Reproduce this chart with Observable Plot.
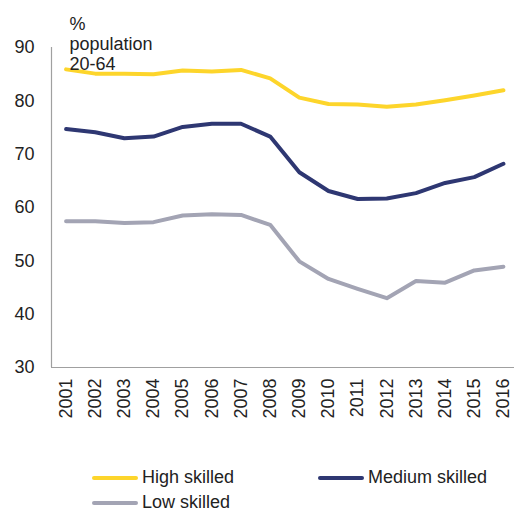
<!DOCTYPE html>
<html>
<head>
<meta charset="utf-8">
<script src="https://cdn.jsdelivr.net/npm/d3@7"></script>
<script src="https://cdn.jsdelivr.net/npm/@observablehq/plot@0.6"></script>
<style>
  body { margin: 0; background: #fff; font-family: "Liberation Sans", Arial, sans-serif; }
  #chart svg { display: block; }
  .legend { display: grid; grid-template-columns: 226px 226px; margin-left: 92px; margin-top: 35px; }
  .item { display: flex; align-items: center; height: 25px; font-size: 18px; color: #222; }
  .swatch { width: 46px; height: 4px; border-radius: 2px; margin-right: 4px; }
</style>
</head>
<body>
<div id="chart"></div>
<script>
const years = [2001,2002,2003,2004,2005,2006,2007,2008,2009,2010,2011,2012,2013,2014,2015,2016];
const highSkilled   = [85.9,85.1,85.1,85.0,85.7,85.5,85.8,84.2,80.6,79.4,79.3,78.9,79.3,80.1,81.0,82.0];
const mediumSkilled = [74.7,74.1,73.0,73.3,75.1,75.7,75.7,73.3,66.6,63.1,61.6,61.7,62.7,64.6,65.7,68.2];
const lowSkilled    = [57.4,57.4,57.1,57.25,58.5,58.75,58.6,56.75,49.9,46.6,44.75,43.0,46.2,45.9,48.2,48.9];
const seriesNames = ["High skilled", "Medium skilled", "Low skilled"];
const seriesColors = ["#FDD52B", "#2E3772", "#A3A4B4"];
const yTicks = [30,40,50,60,70,80,90];
const unitLabel = "%\npopulation\n20-64";

const seriesValues = [highSkilled, mediumSkilled, lowSkilled];
const data = [];
seriesNames.forEach((s, i) => years.forEach((yr, j) => data.push({series: s, year: yr, value: seriesValues[i][j]})));

const xDomain = [2000.5, 2016.38];

const plot = Plot.plot({
  width: 514,
  height: 430,
  marginLeft: 51,
  marginRight: 0,
  marginTop: 47,
  marginBottom: 63,
  style: {fontFamily: "Liberation Sans, Arial, sans-serif", fontSize: "18px", color: "#222"},
  x: {type: "linear", domain: xDomain},
  y: {domain: [30, 90]},
  color: {domain: seriesNames, range: seriesColors},
  marks: [
    Plot.axisY({ticks: yTicks, tickSize: 0, tickPadding: 17, label: null, fontSize: 18}),
    Plot.axisX({ticks: years, tickSize: 0, tickPadding: 11, tickRotate: -90, tickFormat: d => String(d), label: null, fontSize: 18}),
    Plot.ruleX([xDomain[0]], {stroke: "#A0A0A0", strokeWidth: 1.2}),
    Plot.ruleY([30], {stroke: "#A0A0A0", strokeWidth: 1.2}),
    Plot.line(data, {x: "year", y: "value", z: "series", stroke: "series", strokeWidth: 4, strokeLinejoin: "round", strokeLinecap: "round"}),
    Plot.text([unitLabel], {text: d => d, frameAnchor: "top-left", textAnchor: "start", lineAnchor: "top", dx: 18, dy: -32, lineHeight: 1.12, fontSize: 18, fill: "#222"})
  ]
});
document.getElementById("chart").appendChild(plot);

const legend = document.createElement("div");
legend.className = "legend";
seriesNames.forEach((s, i) => {
  const item = document.createElement("div");
  item.className = "item";
  const sw = document.createElement("span");
  sw.className = "swatch";
  sw.style.background = seriesColors[i];
  item.appendChild(sw);
  item.appendChild(document.createTextNode(s));
  legend.appendChild(item);
});
document.body.appendChild(legend);
</script>
</body>
</html>
